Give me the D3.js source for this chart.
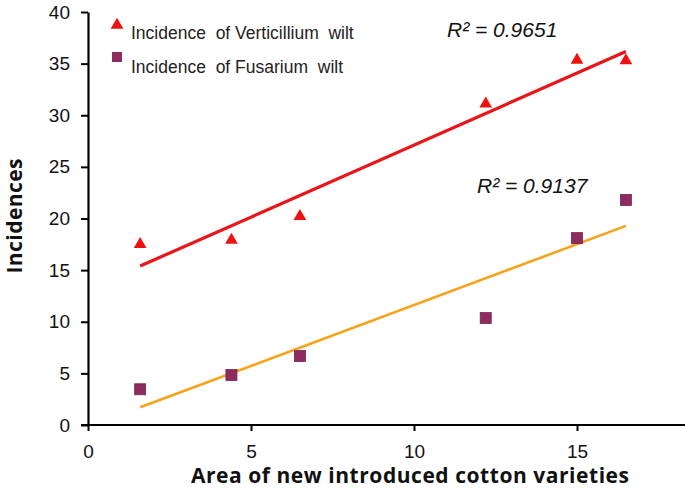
<!DOCTYPE html>
<html>
<head>
<meta charset="utf-8">
<script src="https://cdn.jsdelivr.net/npm/d3@7"></script>
<style>
  body { margin: 0; background: #fff; }
  svg { display: block; }
</style>
</head>
<body>
<svg id="chart"></svg>
<script>
/** * * * * * * DATA * * * * */
const areas = [1.6, 4.4, 6.5, 12.2, 15.0, 16.5];
const verticillium = [17.5, 17.9, 20.2, 31.1, 35.35, 35.3];
const fusarium = [3.46, 4.84, 6.68, 10.36, 18.1, 21.8];
const xTicks = [0, 5, 10, 15];
const yTicks = [0, 5, 10, 15, 20, 25, 30, 35, 40];
const r2Labels = ['R² = 0.9651', 'R² = 0.9137'];
const legendText = ['Incidence  of Verticillium  wilt', 'Incidence  of Fusarium  wilt'];

const width = 685;
const height = 494;
const margin = {top: 12, right: 0, bottom: 69, left: 88};

const svg = d3.select('#chart')
  .attr('width', width)
  .attr('height', height);

let xScale = d3.scaleLinear()
  .domain([0, 18])
  .range([margin.left, margin.left + 32.6 * 18]);

let yScale = d3.scaleLinear()
  .domain([0, 40])
  .range([height - margin.bottom, margin.top]);

// least squares line, drawn over the data range
function fit(xs, ys) {
  let mx = d3.mean(xs), my = d3.mean(ys);
  let num = d3.sum(xs, (x, i) => (x - mx) * (ys[i] - my));
  let den = d3.sum(xs, x => (x - mx) * (x - mx));
  let b = num / den;
  let a = my - b * mx;
  let x0 = d3.min(xs), x1 = d3.max(xs);
  return [{x: x0, y: a + b * x0}, {x: x1, y: a + b * x1}];
}

let line = d3.line()
  .x(d => xScale(d.x))
  .y(d => yScale(d.y));

// axes
let xAxis = svg.append('g')
  .attr('transform', `translate(0,${yScale(0)})`)
  .call(d3.axisBottom(xScale).tickValues(xTicks).tickSize(6).tickSizeOuter(0).tickPadding(14));

let yAxis = svg.append('g')
  .attr('transform', `translate(${xScale(0)},0)`)
  .call(d3.axisLeft(yScale).tickValues(yTicks).tickSize(7).tickSizeOuter(0).tickPadding(11));

[xAxis, yAxis].forEach(function(ax) {
  ax.select('.domain').attr('stroke', '#000').attr('stroke-width', 2.2);
  ax.selectAll('.tick line').attr('stroke', '#000').attr('stroke-width', 2);
  ax.selectAll('.tick text')
    .attr('fill', '#111')
    .style('font-family', '"Liberation Sans", Arial, sans-serif')
    .style('font-size', '19px');
});
xAxis.select('.domain').attr('d', `M${xScale(0) - 7},0H${width}`);

// trend lines
svg.append('path')
  .datum(fit(areas, verticillium))
  .attr('d', line)
  .attr('stroke', '#e8161b')
  .attr('stroke-width', 3.2)
  .attr('fill', 'none');

svg.append('path')
  .datum(fit(areas, fusarium))
  .attr('d', line)
  .attr('stroke', '#f7a21b')
  .attr('stroke-width', 2.6)
  .attr('fill', 'none');

// markers
let tri = d3.symbol().type(d3.symbolTriangle).size(70);
svg.selectAll('.vert')
  .data(areas)
  .enter()
  .append('path')
  .attr('class', 'vert')
  .attr('d', tri)
  .attr('transform', (d, i) => `translate(${xScale(d)},${yScale(verticillium[i])})`)
  .attr('fill', '#ee1111');

svg.selectAll('.fus')
  .data(areas)
  .enter()
  .append('rect')
  .attr('class', 'fus')
  .attr('x', d => xScale(d) - 5.5)
  .attr('y', (d, i) => yScale(fusarium[i]) - 5.5)
  .attr('width', 11)
  .attr('height', 11)
  .attr('fill', '#8e2b5f')
  .attr('stroke', '#7a2250')
  .attr('stroke-width', 0.8);

// legend
svg.append('path')
  .attr('d', tri)
  .attr('transform', 'translate(117,25)')
  .attr('fill', '#ee1111');
svg.append('rect')
  .attr('x', 112).attr('y', 52).attr('width', 10).attr('height', 10)
  .attr('fill', '#8e2b5f');

svg.selectAll('.leg')
  .data(legendText)
  .enter()
  .append('text')
  .attr('class', 'leg')
  .attr('x', 131)
  .attr('y', (d, i) => 39 + i * 34)
  .style('white-space', 'pre')
  .style('font-family', '"Liberation Sans", Arial, sans-serif')
  .style('font-size', '17.5px')
  .attr('fill', '#222')
  .text(d => d);

// R squared labels
svg.selectAll('.r2')
  .data(r2Labels)
  .enter()
  .append('text')
  .attr('class', 'r2')
  .attr('x', (d, i) => i === 0 ? 447 : 477)
  .attr('y', (d, i) => i === 0 ? 37 : 193)
  .style('font-family', '"Liberation Sans", Arial, sans-serif')
  .style('font-style', 'italic')
  .style('font-size', '21px')
  .attr('fill', '#111')
  .text(d => d);

// axis titles
svg.append('text')
  .attr('x', 410)
  .attr('y', 483)
  .attr('text-anchor', 'middle')
  .attr('textLength', 438)
  .style('font-family', '"Open Sans", sans-serif')
  .style('font-weight', 'bold')
  .style('font-size', '21px')
  .attr('fill', '#111')
  .text('Area of new introduced cotton varieties');

svg.append('text')
  .attr('transform', 'translate(22,216) rotate(-90)')
  .attr('text-anchor', 'middle')
  .attr('textLength', 115)
  .style('font-family', '"Open Sans", sans-serif')
  .style('font-weight', 'bold')
  .style('font-size', '21px')
  .attr('fill', '#111')
  .text('Incidences');
</script>
</body>
</html>
